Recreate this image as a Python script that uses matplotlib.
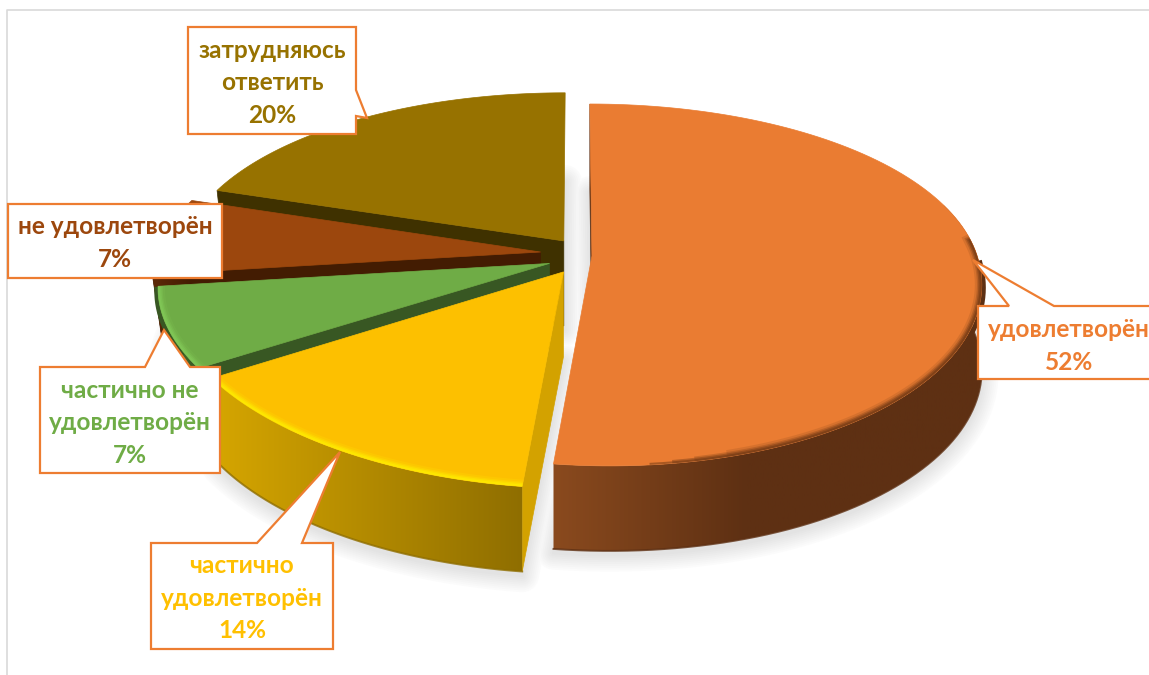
import numpy as np
import matplotlib

matplotlib.use("Agg")
from matplotlib import pyplot as plt
from matplotlib.colors import LinearSegmentedColormap
from matplotlib.patches import PathPatch, Polygon
from matplotlib.path import Path

plt.rcParams["font.family"] = ["Lato", "DejaVu Sans"]

# доли ответов, по часовой стрелке от 12 часов
nomes = [
    "удовлетворён",
    "частично\nудовлетворён",
    "частично не\nудовлетворён",
    "не удовлетворён",
    "затрудняюсь\nответить",
]
valores = [52, 14, 7, 7, 20]
explosao = [0.044, 0.056, 0.07, 0.09, 0.05]

cor_topo = ["#ea7c32", "#fdc000", "#6fac46", "#9c470d", "#977200"]
cor_parede = ["#5e3013", "#d3a200", "#385723", "#431c02", "#3f3100"]
cor_lado_a = ["#8a4a1e", "#d6a600", "#4d7a30", "#5e2a08", "#5e4a00"]
cor_lado_b = ["#5e3013", "#8f6e00", "#385723", "#431c02", "#3f3100"]
cor_brilho = ["#6a3512", "#fff000", "#84cc5a", None, None]
cor_friso = ["#5e3013", None, "#385723", None, None]
inicio_brilho = [0.3, -2, -2, -2, -2]
fim_gradiente = [0.45, 1.0, 1.0, 1.0, 1.0]
cor_borda = "#ed7d31"

# geometria do disco em perspectiva (pixels)
CX, CY = 575, 255
RAIO_X, RAIO_Y = 385, 176
K_X, K_Y = 0.14, 0.16
DESVIO_FRENTE = 15
RECUO_ESQ = 10
ALTURA = 85


def projetar(u, v, queda=0.0):
    x = CX + RAIO_X * u / (1 + K_X * v) + DESVIO_FRENTE * np.minimum(v, 0) ** 2
    x = x + queda / ALTURA * RECUO_ESQ * np.maximum(-u, 0) ** 3
    y = CY - RAIO_Y * v / (1 + K_Y * v) + queda
    return x, y


def fatia(a0, a1, e):
    """Devolve arco (u, v) e apice (u, v) de uma fatia explodida."""
    meio = (a0 + a1) / 2
    du, dv = e * np.sin(meio), 2 * e * np.cos(meio)
    t = np.linspace(a0, a1, 120)
    return np.sin(t) + du, np.cos(t) + dv, du, dv


def caixa(ax, x0, y0, x1, y1, ponta=None, base=None, lado="cima"):
    if ponta is None:
        pts = [(x0, y0), (x1, y0), (x1, y1), (x0, y1)]
    elif lado == "cima":
        pts = [(x0, y0), (base[0], y0), ponta, (base[1], y0), (x1, y0), (x1, y1), (x0, y1)]
    else:
        pts = [(x0, y0), (x1, y0), (x1, base[0]), ponta, (x1, base[1]), (x1, y1), (x0, y1)]
    ax.add_patch(Polygon(pts, closed=True, fc="white", ec=cor_borda, lw=1.6, zorder=100))


def rotulo(ax, cx, cy, nome, valor, cor):
    linhas = nome.split("\n") + [f"{valor}%"]
    for i, linha in enumerate(linhas):
        y = cy + (i - (len(linhas) - 1) / 2) * 32.5
        ax.text(cx, y, linha, color=cor, fontsize=17.6, fontweight="bold",
                ha="center", va="center", zorder=101)


fig = plt.figure(figsize=(11.49, 6.75), dpi=100)
ax = fig.add_axes([0, 0, 1, 1])

limites = np.cumsum([0] + valores) / sum(valores) * 2 * np.pi
fatias = [fatia(limites[i], limites[i + 1], explosao[i]) for i in range(len(valores))]

# sombra difusa sob o disco, do tom mais claro para o mais escuro
for w, tom in zip(np.linspace(24, 2, 9), np.linspace(0.985, 0.89, 9)):
    for u, v, du, dv in fatias:
        x, y = projetar(u, v, ALTURA + 4)
        xa, ya = projetar(du, dv, ALTURA + 4)
        ax.fill(np.r_[x, xa], np.r_[y, ya], fc=str(tom), ec=str(tom), lw=w,
                joinstyle="round", zorder=1)

# de tras para a frente: as ultimas fatias ficam no fundo
for i in [4, 3, 2, 1, 0]:
    u, v, du, dv = fatias[i]
    z = 10 + (4 - i) * 10
    xt, yt = projetar(u, v)
    xb, yb = projetar(u, v, ALTURA)
    xa, ya = projetar(du, dv)

    # parede radial do inicio da fatia
    parede = [(xa, ya), (xt[0], yt[0]), (xb[0], yb[0]), (xa, ya + ALTURA)]
    ax.add_patch(Polygon(parede, closed=True, fc=cor_parede[i], ec=cor_parede[i], lw=0.5, zorder=z))

    # lateral externa com gradiente horizontal, so no trecho voltado para a frente
    frente = v < 0.1
    if (v < 0.3).sum() > 1:
        lado = v < 0.3
        caminho = Path(np.c_[np.r_[xt[lado], xb[lado][::-1]], np.r_[yt[lado], yb[lado][::-1]]])
        recorte = PathPatch(caminho, transform=ax.transData, fc="none", ec="none")
        ax.add_patch(recorte)
        mapa = LinearSegmentedColormap.from_list("lado", [cor_lado_a[i], cor_lado_b[i]])
        grad = np.clip(np.linspace(0, 1, 256) / fim_gradiente[i], 0, 1)[None, :]
        img = ax.imshow(grad, cmap=mapa, vmin=0, vmax=1, aspect="auto", zorder=z + 1,
                        extent=[xt.min(), xt.max(), yb.max(), yt.min()])
        img.set_clip_path(recorte)
        ax.plot(xb[frente], yb[frente], color=cor_lado_b[i], lw=1.4, alpha=0.8, zorder=z + 2)

    # friso escuro por fora do topo, so nos flancos
    if cor_friso[i] is not None:
        flanco = (v < 0.0) & (v > -0.5)
        xf, yf = projetar(u[flanco] * 1.004, v[flanco], 3)
        ax.plot(xf, yf, color=cor_friso[i], lw=3.5, zorder=z + 3)

    # topo da fatia
    topo = Polygon(np.c_[np.r_[xa, xt], np.r_[ya, yt]], closed=True,
                   fc=cor_topo[i], ec=cor_topo[i], lw=0.5, zorder=z + 4)
    ax.add_patch(topo)
    if cor_brilho[i] is not None:
        for k, (w, alfa) in enumerate([(10, 0.15), (7, 0.25), (5, 0.4), (3, 0.5)]):
            trecho = frente & (u > inicio_brilho[i] - k * 0.06)
            linha, = ax.plot(xt[trecho], yt[trecho], color=cor_brilho[i], lw=w,
                             alpha=alfa, zorder=z + 5)
            linha.set_clip_path(topo)

# moldura fina da area do grafico
ax.plot([7, 7, 1149], [675, 10, 10], color="#d9d9d9", lw=1.2, zorder=0.5)

caixa(ax, 188, 27, 356, 134, (367, 118), (90, 116), lado="dir")
rotulo(ax, 272, 83, nomes[4], valores[4], cor_topo[4])

caixa(ax, 8, 204, 222, 278)
rotulo(ax, 115, 243, nomes[3], valores[3], cor_topo[3])

caixa(ax, 40, 367, 220, 473, (164, 330), (145, 190))
rotulo(ax, 130, 423, nomes[2], valores[2], cor_topo[2])

caixa(ax, 151, 543, 333, 649, (340, 452), (257, 302))
rotulo(ax, 242, 598, nomes[1], valores[1], "#ffc000")

caixa(ax, 978, 306, 1170, 379, (973, 260), (1009, 1054))
rotulo(ax, 1069, 346, nomes[0], valores[0], cor_borda)

ax.set_xlim(0, 1149)
ax.set_ylim(675, 0)
ax.axis("off")

fig.savefig("out.png", dpi=100, facecolor="white")
